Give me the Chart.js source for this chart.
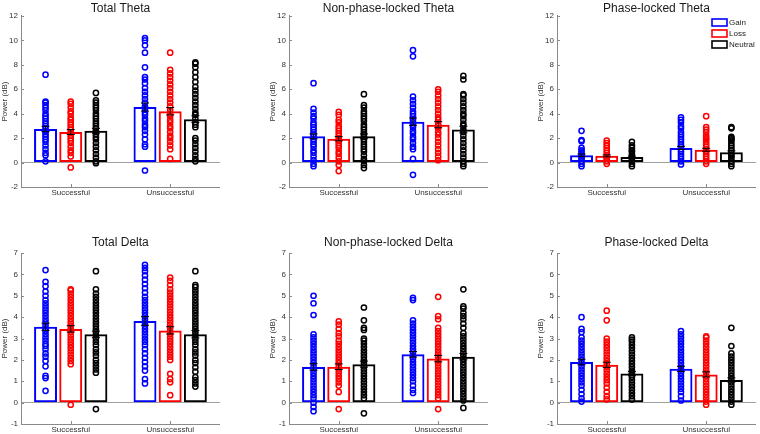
<!DOCTYPE html>
<html>
<head>
<meta charset="utf-8">
<script src="https://cdn.jsdelivr.net/npm/chart.js@4.4.1/dist/chart.umd.min.js"></script>
<style>
  body { margin: 0; background: #fff; }
  #wrap { position: relative; width: 760px; height: 434px; overflow: hidden; }
  #wrap canvas { position: absolute; }
</style>
</head>
<body>
<div id="wrap"></div>
<script>
// categories and conditions
const categories = ['Successful', 'Unsuccessful'];
const conditions = ['Gain', 'Loss', 'Neutral'];
const colors = ['#0000ff', '#ff0000', '#000000'];

// bar means, rows = Gain/Loss/Neutral, cols = Successful/Unsuccessful
const totalThetaMean = [[2.75, 4.55], [2.5, 4.2], [2.6, 3.55]];
const totalThetaSem = [[0.22, 0.33], [0.2, 0.3], [0.2, 0.28]];
const nplThetaMean = [[2.15, 3.35], [1.95, 3.1], [2.15, 2.7]];
const nplThetaSem = [[0.2, 0.3], [0.17, 0.25], [0.2, 0.27]];
const plThetaMean = [[0.6, 1.2], [0.55, 1.05], [0.45, 0.85]];
const plThetaSem = [[0.1, 0.13], [0.08, 0.12], [0.08, 0.11]];
const totalDeltaMean = [[3.55, 3.82], [3.45, 3.38], [3.2, 3.2]];
const totalDeltaSem = [[0.17, 0.2], [0.15, 0.17], [0.15, 0.17]];
const nplDeltaMean = [[1.67, 2.26], [1.68, 2.06], [1.8, 2.15]];
const nplDeltaSem = [[0.15, 0.13], [0.13, 0.15], [0.14, 0.15]];
const plDeltaMean = [[1.9, 1.58], [1.77, 1.32], [1.36, 1.06]];
const plDeltaSem = [[0.13, 0.12], [0.12, 0.12], [0.1, 0.1]];

// single subjects: [S gain, S loss, S neutral, U gain, U loss, U neutral]
const totalThetaPoints = [
  [0.1, 0.6, 0.8, 1.1, 1.4, 1.7, 1.9, 2.1, 2.3, 2.5, 2.6, 2.8, 3.0, 3.2, 3.4, 3.6, 3.8, 4.0, 4.3, 4.5, 4.7, 4.9, 5.0, 7.2],
  [-0.4, 0.5, 0.8, 1.0, 1.3, 1.6, 1.8, 2.0, 2.2, 2.4, 2.5, 2.7, 2.9, 3.1, 3.3, 3.5, 3.7, 4.0, 4.2, 4.5, 4.8, 5.0],
  [-0.05, 0.1, 0.4, 0.7, 1.0, 1.3, 1.6, 1.9, 2.1, 2.3, 2.5, 2.6, 2.8, 3.0, 3.2, 3.4, 3.6, 3.8, 4.0, 4.3, 4.5, 4.7, 4.9, 5.1, 5.7],
  [-0.65, 1.3, 1.5, 1.9, 2.3, 2.6, 2.9, 3.1, 3.4, 3.6, 3.9, 4.1, 4.4, 4.6, 4.9, 5.2, 5.5, 5.8, 6.1, 6.5, 6.8, 7.0, 7.8, 9.0, 9.6, 10.0, 10.2],
  [0.3, 1.1, 1.4, 1.7, 2.0, 2.2, 2.5, 2.8, 3.0, 3.3, 3.5, 3.8, 4.0, 4.3, 4.6, 4.9, 5.2, 5.5, 5.8, 6.1, 6.4, 6.7, 7.0, 7.3, 7.6, 9.0],
  [0.1, 0.3, 0.6, 0.9, 1.2, 1.5, 1.8, 2.0, 2.9, 3.1, 3.3, 3.6, 3.9, 4.1, 4.4, 4.7, 5.0, 5.3, 5.6, 5.9, 6.2, 6.6, 7.0, 7.4, 7.8, 8.1, 8.2]
];
const nplThetaPoints = [
  [-0.3, -0.1, 0.2, 0.5, 0.8, 1.0, 1.3, 1.5, 1.7, 1.9, 2.1, 2.3, 2.5, 2.7, 2.9, 3.1, 3.3, 3.6, 3.8, 4.1, 4.4, 6.5],
  [-0.7, -0.2, 0.1, 0.4, 0.7, 0.9, 1.2, 1.4, 1.6, 1.8, 2.0, 2.2, 2.4, 2.6, 2.8, 3.0, 3.3, 3.5, 3.9, 4.15],
  [-0.45, -0.2, 0.1, 0.3, 0.6, 0.9, 1.1, 1.3, 1.5, 1.7, 1.9, 2.1, 2.3, 2.5, 2.7, 2.9, 3.1, 3.4, 3.6, 3.8, 4.0, 4.2, 4.5, 4.7, 5.6],
  [-1.0, 0.3, 1.1, 1.3, 1.6, 1.9, 2.1, 2.4, 2.6, 2.9, 3.1, 3.3, 3.5, 3.8, 4.0, 4.2, 4.5, 4.8, 5.1, 5.4, 8.7, 9.2],
  [0.2, 0.5, 0.8, 1.1, 1.4, 1.7, 2.0, 2.3, 2.5, 2.8, 3.0, 3.2, 3.5, 3.7, 4.0, 4.3, 4.6, 4.9, 5.2, 5.5, 5.8, 6.0],
  [-0.3, -0.1, 0.1, 0.4, 0.7, 1.0, 1.3, 1.6, 1.9, 2.2, 2.5, 2.7, 3.0, 3.2, 3.5, 3.8, 4.0, 4.3, 4.6, 4.9, 5.2, 5.5, 5.6, 6.8, 7.1]
];
const plThetaPoints = [
  [-0.3, -0.1, 0.1, 0.3, 0.4, 0.6, 0.7, 0.9, 1.0, 1.2, 1.75, 1.85, 2.6],
  [-0.1, 0.1, 0.3, 0.4, 0.6, 0.8, 1.0, 1.2, 1.4, 1.6, 1.8],
  [-0.3, -0.1, 0.1, 0.2, 0.4, 0.5, 0.7, 0.9, 1.0, 1.2, 1.4, 1.7],
  [-0.15, 0.1, 0.3, 0.5, 0.7, 0.9, 1.1, 1.3, 1.5, 1.7, 1.9, 2.1, 2.3, 2.5, 2.8, 3.0, 3.3, 3.5, 3.7],
  [-0.1, 0.1, 0.3, 0.5, 0.7, 0.9, 1.1, 1.3, 1.5, 1.7, 1.9, 2.0, 2.2, 2.5, 2.7, 2.9, 3.8],
  [-0.3, -0.1, 0.1, 0.3, 0.5, 0.6, 0.8, 1.0, 1.2, 1.4, 1.6, 1.8, 1.9, 2.0, 2.1, 2.8, 2.9]
];
const totalDeltaPoints = [
  [0.55, 1.15, 1.25, 1.7, 1.95, 2.15, 2.3, 2.5, 2.65, 2.75, 2.9, 3.05, 3.2, 3.35, 3.45, 3.6, 3.75, 3.9, 4.05, 4.2, 4.35, 4.5, 4.65, 4.8, 5.0, 5.2, 5.45, 5.65, 6.2],
  [-0.1, 1.8, 1.95, 2.1, 2.25, 2.4, 2.55, 2.7, 2.85, 3.0, 3.15, 3.3, 3.45, 3.6, 3.75, 3.9, 4.05, 4.2, 4.35, 4.5, 4.65, 4.8, 4.95, 5.1, 5.25, 5.3],
  [-0.3, 1.4, 1.55, 1.7, 1.85, 2.0, 2.2, 2.35, 2.5, 2.7, 2.85, 3.0, 3.15, 3.3, 3.45, 3.6, 3.75, 3.9, 4.05, 4.2, 4.35, 4.5, 4.65, 4.8, 4.95, 5.1, 5.3, 6.15],
  [0.9, 1.1, 1.5, 1.7, 1.9, 2.1, 2.3, 2.5, 2.7, 2.85, 3.0, 3.15, 3.3, 3.45, 3.6, 3.75, 3.9, 4.05, 4.2, 4.35, 4.5, 4.65, 4.8, 4.95, 5.15, 5.35, 5.55, 5.75, 5.95, 6.15, 6.3, 6.45],
  [0.35, 0.95, 1.1, 1.35, 2.0, 2.15, 2.3, 2.45, 2.6, 2.75, 2.9, 3.05, 3.2, 3.35, 3.5, 3.65, 3.8, 3.95, 4.1, 4.25, 4.4, 4.55, 4.7, 4.85, 5.0, 5.15, 5.3, 5.5, 5.7, 5.85],
  [0.75, 0.9, 1.05, 1.2, 1.45, 1.65, 1.85, 2.0, 2.2, 2.35, 2.5, 2.7, 2.85, 3.0, 3.15, 3.3, 3.45, 3.6, 3.75, 3.9, 4.05, 4.2, 4.35, 4.5, 4.65, 4.8, 4.95, 5.1, 5.25, 5.4, 5.5, 6.15]
];
const nplDeltaPoints = [
  [-0.4, -0.2, 0.0, 0.2, 0.35, 0.5, 0.65, 0.8, 0.95, 1.1, 1.25, 1.4, 1.55, 1.7, 1.85, 2.0, 2.15, 2.3, 2.45, 2.6, 2.75, 2.9, 3.05, 3.2, 4.1, 4.65, 5.0],
  [-0.3, 0.5, 0.8, 0.95, 1.1, 1.25, 1.4, 1.55, 1.7, 1.85, 2.0, 2.15, 2.3, 2.45, 2.6, 2.75, 2.9, 3.1, 3.25, 3.45, 3.65, 3.8],
  [-0.5, 0.2, 0.35, 0.5, 0.65, 0.8, 0.95, 1.1, 1.25, 1.4, 1.55, 1.7, 1.85, 2.0, 2.15, 2.3, 2.45, 2.6, 2.75, 2.9, 3.0, 3.4, 3.5, 3.85, 4.45],
  [0.45, 0.6, 0.8, 1.0, 1.15, 1.3, 1.45, 1.6, 1.75, 1.9, 2.05, 2.2, 2.35, 2.5, 2.65, 2.8, 2.95, 3.1, 3.25, 3.4, 3.55, 3.7, 3.85, 4.8, 4.9],
  [-0.3, 0.2, 0.35, 0.5, 0.65, 0.8, 0.95, 1.1, 1.25, 1.4, 1.55, 1.7, 1.85, 2.0, 2.15, 2.3, 2.45, 2.6, 2.75, 2.9, 3.05, 3.2, 3.35, 3.5, 3.9, 4.05, 4.95],
  [-0.25, 0.1, 0.25, 0.4, 0.55, 0.7, 0.85, 1.0, 1.15, 1.3, 1.45, 1.6, 1.75, 1.9, 2.05, 2.2, 2.35, 2.5, 2.65, 2.8, 2.95, 3.1, 3.25, 3.5, 3.7, 3.9, 4.05, 4.2, 4.4, 4.5, 5.3]
];
const plDeltaPoints = [
  [0.05, 0.2, 0.4, 0.6, 0.8, 0.95, 1.1, 1.25, 1.4, 1.55, 1.7, 1.85, 2.0, 2.15, 2.3, 2.45, 2.6, 2.75, 2.9, 3.05, 3.3, 3.45, 4.0],
  [0.15, 0.3, 0.5, 0.7, 0.9, 1.05, 1.2, 1.35, 1.5, 1.65, 1.8, 1.95, 2.1, 2.25, 2.4, 2.55, 2.7, 2.85, 3.0, 3.85, 4.3],
  [0.15, 0.3, 0.45, 0.6, 0.75, 0.9, 1.05, 1.2, 1.3, 1.4, 1.5, 1.65, 1.8, 1.95, 2.1, 2.25, 2.4, 2.55, 2.7, 2.85, 2.95, 3.05],
  [0.1, 0.3, 0.5, 0.65, 0.8, 0.95, 1.1, 1.25, 1.4, 1.55, 1.7, 1.85, 2.0, 2.15, 2.3, 2.45, 2.6, 2.75, 2.9, 3.05, 3.2, 3.35],
  [-0.1, 0.05, 0.2, 0.35, 0.5, 0.65, 0.8, 0.95, 1.1, 1.25, 1.4, 1.55, 1.7, 1.85, 2.0, 2.15, 2.3, 2.45, 2.6, 2.75, 2.9, 3.05, 3.1],
  [-0.1, 0.05, 0.2, 0.35, 0.5, 0.65, 0.8, 0.95, 1.1, 1.25, 1.4, 1.55, 1.7, 1.85, 2.0, 2.15, 2.3, 2.65, 3.5]
];

const thetaTicks = { min: -2, max: 12, step: 2 };
const deltaTicks = { min: -1, max: 7, step: 1 };

const FONT = "'Liberation Sans', Arial, sans-serif";
const AXIS_GRAY = '#8a8a8a';
const GROUP_SPREAD = 0.2533;   // distance between bars of one group, in category units
const BAR_PCT = 0.91;

// error bars + inward tick marks, matlab style
const errorBarPlugin = {
  id: 'errorBars',
  afterDatasetsDraw(chart) {
    const ctx = chart.ctx;
    const y = chart.scales.y;
    ctx.save();
    ctx.strokeStyle = '#000';
    ctx.lineWidth = 1;
    chart.data.datasets.forEach((ds, di) => {
      if (!ds.sem) return;
      const meta = chart.getDatasetMeta(di);
      meta.data.forEach((bar, i) => {
        const v = ds.data[i].y;
        const hi = y.getPixelForValue(v + ds.sem[i]);
        const lo = y.getPixelForValue(v - ds.sem[i]);
        ctx.beginPath();
        ctx.moveTo(bar.x, hi); ctx.lineTo(bar.x, lo);
        ctx.moveTo(bar.x - 4, hi); ctx.lineTo(bar.x + 4, hi);
        ctx.moveTo(bar.x - 4, lo); ctx.lineTo(bar.x + 4, lo);
        ctx.stroke();
      });
    });
    ctx.restore();
  },
  afterDraw(chart) {
    const ctx = chart.ctx;
    const area = chart.chartArea;
    ctx.save();
    ctx.strokeStyle = AXIS_GRAY;
    ctx.lineWidth = 1;
    ctx.beginPath();
    chart.scales.y.ticks.forEach(t => {
      const py = Math.round(chart.scales.y.getPixelForValue(t.value)) + 0.5;
      ctx.moveTo(area.left, py); ctx.lineTo(area.left + 3, py);
    });
    categories.forEach((c, i) => {
      const px = Math.round(chart.scales.x.getPixelForValue(i)) + 0.5;
      ctx.moveTo(px, area.bottom); ctx.lineTo(px, area.bottom - 3);
    });
    ctx.stroke();
    ctx.restore();
  }
};

// legend drawn in the top right corner of a panel
const cornerLegend = {
  id: 'cornerLegend',
  afterDraw(chart, args, opts) {
    if (!opts.show) return;
    const ctx = chart.ctx;
    ctx.save();
    ctx.font = '8px ' + FONT;
    ctx.textBaseline = 'middle';
    chart.data.datasets.filter(d => d.sem).forEach((ds, i) => {
      const cy = opts.top + i * 11;
      ctx.strokeStyle = ds.borderColor;
      ctx.lineWidth = 1.6;
      ctx.strokeRect(opts.left, cy - 3.5, 15, 7);
      ctx.fillStyle = '#222';
      ctx.fillText(ds.label, opts.left + 17, cy);
    });
    ctx.restore();
  }
};

function makePanel(opts) {
  const canvas = document.createElement('canvas');
  canvas.width = 224;
  canvas.height = opts.height;
  canvas.style.left = opts.left + 'px';
  canvas.style.top = opts.top + 'px';
  document.getElementById('wrap').appendChild(canvas);

  const datasets = [];
  conditions.forEach((cond, k) => {
    const off = (k - 1) * GROUP_SPREAD;
    datasets.push({
      type: 'bar',
      label: cond,
      data: categories.map((c, i) => ({ x: i + off, y: opts.mean[k][i] })),
      sem: opts.sem[k],
      borderColor: colors[k],
      backgroundColor: 'rgba(255,255,255,0)',
      borderWidth: 2,
      borderSkipped: false,
      grouped: false,
      categoryPercentage: 1,
      barPercentage: BAR_PCT,
      order: 3
    });
  });
  conditions.forEach((cond, k) => {
    const off = (k - 1) * GROUP_SPREAD;
    const pts = [];
    categories.forEach((c, i) => {
      opts.points[i * 3 + k].forEach(v => pts.push({ x: i + off, y: v }));
    });
    datasets.push({
      type: 'scatter',
      label: cond + ' subjects',
      data: pts,
      borderColor: colors[k],
      backgroundColor: 'rgba(255,255,255,0)',
      pointRadius: 2.6,
      pointBorderWidth: 1.5,
      pointHoverRadius: 2.6,
      order: 1
    });
  });

  const top = opts.top === 0;
  new Chart(canvas, {
    type: 'bar',
    data: { datasets: datasets },
    options: {
      responsive: false,
      animation: false,
      devicePixelRatio: 1,
      events: [],
      layout: { padding: { top: top ? 0 : 20, right: 1, left: 0, bottom: 0 } },
      plugins: {
        legend: { display: false },
        tooltip: { enabled: false },
        title: {
          display: true,
          text: opts.title,
          fullSize: false,
          color: '#1a1a1a',
          font: { family: FONT, size: 12, weight: 'normal', lineHeight: 1.2 },
          padding: top ? { top: 1, bottom: 0.6 } : { top: 0.8, bottom: 2.8 }
        },
        cornerLegend: { show: !!opts.legend, left: 176, top: 22.5 }
      },
      scales: {
        x: {
          type: 'linear',
          offset: false,
          min: -0.5,
          max: 1.5,
          grid: { display: false, drawTicks: false, offset: false },
          border: { display: true, color: AXIS_GRAY, width: 1 },
          afterBuildTicks: s => { s.ticks = categories.map((c, i) => ({ value: i })); },
          ticks: {
            color: '#333', font: { family: FONT, size: 8 }, padding: 1, maxRotation: 0, autoSkip: false,
            callback: v => categories[v]
          },
          afterFit: s => { s.height = top ? 13 : 10; }
        },
        y: {
          min: opts.ticks.min,
          max: opts.ticks.max,
          ticks: { stepSize: opts.ticks.step, color: '#333', font: { family: FONT, size: 8 }, padding: 3 },
          grid: {
            drawTicks: false,
            color: c => (c.tick && c.tick.value === 0) ? '#a0a0a0' : 'rgba(0,0,0,0)'
          },
          border: { display: true, color: AXIS_GRAY, width: 1 },
          title: { display: true, text: 'Power (dB)', color: '#333', font: { family: FONT, size: 8 }, padding: 0 },
          afterFit: s => { s.width = 21; }
        }
      }
    },
    plugins: [errorBarPlugin, cornerLegend]
  });
}

makePanel({ title: 'Total Theta', left: 0, top: 0, height: 200, mean: totalThetaMean, sem: totalThetaSem, points: totalThetaPoints, ticks: thetaTicks });
makePanel({ title: 'Non-phase-locked Theta', left: 268, top: 0, height: 200, mean: nplThetaMean, sem: nplThetaSem, points: nplThetaPoints, ticks: thetaTicks });
makePanel({ title: 'Phase-locked Theta', left: 536, top: 0, height: 200, mean: plThetaMean, sem: plThetaSem, points: plThetaPoints, ticks: thetaTicks, legend: true });
makePanel({ title: 'Total Delta', left: 0, top: 215, height: 219, mean: totalDeltaMean, sem: totalDeltaSem, points: totalDeltaPoints, ticks: deltaTicks });
makePanel({ title: 'Non-phase-locked Delta', left: 268, top: 215, height: 219, mean: nplDeltaMean, sem: nplDeltaSem, points: nplDeltaPoints, ticks: deltaTicks });
makePanel({ title: 'Phase-locked Delta', left: 536, top: 215, height: 219, mean: plDeltaMean, sem: plDeltaSem, points: plDeltaPoints, ticks: deltaTicks });
</script>
</body>
</html>
